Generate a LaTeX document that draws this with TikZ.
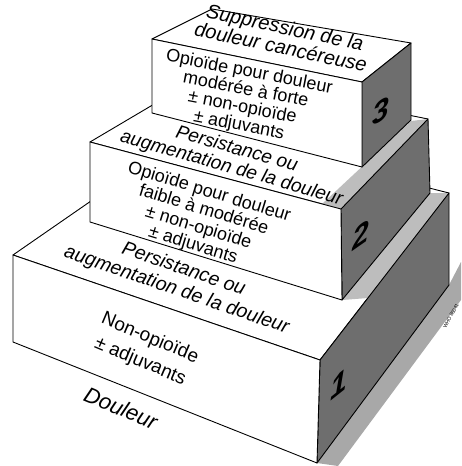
\documentclass[tikz,border=0pt]{standalone}
\usepackage{fontspec}
\setmainfont{Liberation Sans}
\definecolor{sidecol}{HTML}{6E6E6E}
\definecolor{stripcol}{HTML}{BDBDBD}
\definecolor{shadecol}{HTML}{A8A8A8}

\begin{document}
\begin{tikzpicture}[
  x=1pt, y=-1pt,
  face/.style  = {draw, line width=0.9pt, fill=white, line join=round},
  side/.style  = {face, fill=sidecol},
  strip/.style = {fill=stripcol},
  lbl/.style   = {align=center, inner sep=0pt},
  num/.style   = {inner sep=0pt, font=\bfseries\itshape\fontsize{30}{30}\selectfont}]
\newcommand{\fs}[2]{\fontsize{#1}{#2}\selectfont}
\useasboundingbox (0,0) rectangle (461,466);

\fill[shadecol] (317,463) -- (449,285) -- (461,262) -- (461,300) -- (338,466) -- cycle;
\draw[face] (13,255) -- (195,129) -- (449,193) -- (320,360) -- cycle;
\fill[strip] (430,193) -- (449,193) -- (368,298) -- (342,300) -- cycle;
\draw[side] (320,360) -- (449,193) -- (449,285) -- (317,463) -- cycle;
\draw[face] (13,255) -- (320,360) -- (317,463) -- (13,342) -- cycle;

\draw[face] (90,142) -- (205,74) -- (428,119) -- (341,209) -- cycle;
\fill[strip] (411,121) -- (428,119) -- (341,209) -- (322,204) -- cycle;
\draw[side] (341,209) -- (428,119) -- (430,193) -- (342,300) -- cycle;
\draw[face] (90,142) -- (341,209) -- (342,300) -- (90,222) -- cycle;

\draw[face] (152,39) -- (212,9) -- (411,43) -- (362,82) -- cycle;
\draw[side] (362,82) -- (411,43) -- (411,120) -- (362,167) -- cycle;
\draw[face] (152,39) -- (362,82) -- (362,167) -- (152,113) -- cycle;

\node[lbl, rotate=-12, font=\itshape\fs{20}{20}] (top3) at (283,37)
  {Suppression de la\\douleur cancéreuse};
\node[lbl, rotate=-11, font=\fs{18}{18}] (front3) at (244,99)
  {Opioïde pour douleur\\modérée à forte\\± non-opioïde\\± adjuvants};
\node[lbl, rotate=-16, font=\itshape\fs{19}{19.5}] (top2) at (234,159)
  {Persistance ou\\augmentation de la douleur};
\node[lbl, rotate=-17, font=\fs{18}{18.5}] (front2) at (201,219)
  {Opioïde pour douleur\\faible à modérée\\± non-opioïde\\± adjuvants};
\node[lbl, rotate=-19, font=\itshape\fs{19.5}{22}] (top1) at (180,280)
  {Persistance ou\\augmentation de la douleur};
\node[lbl, rotate=-23, font=\fs{19}{25}] (front1) at (145,350)
  {Non-opioïde\\± adjuvants};
\node[lbl, rotate=-23, font=\itshape\fs{22}{22}] (base) at (121,408) {Douleur};

\node[num, yslant=0.6] (n3) at (381,111) {3};
\node[num, yslant=0.7] (n2) at (361,235) {2};
\node[num, yslant=0.8] (n1) at (339,385) {1};
\node[inner sep=0pt, rotate=62, font=\fs{5}{5}] (code) at (451,316) {WHO 86041};
\end{tikzpicture}
\end{document}
